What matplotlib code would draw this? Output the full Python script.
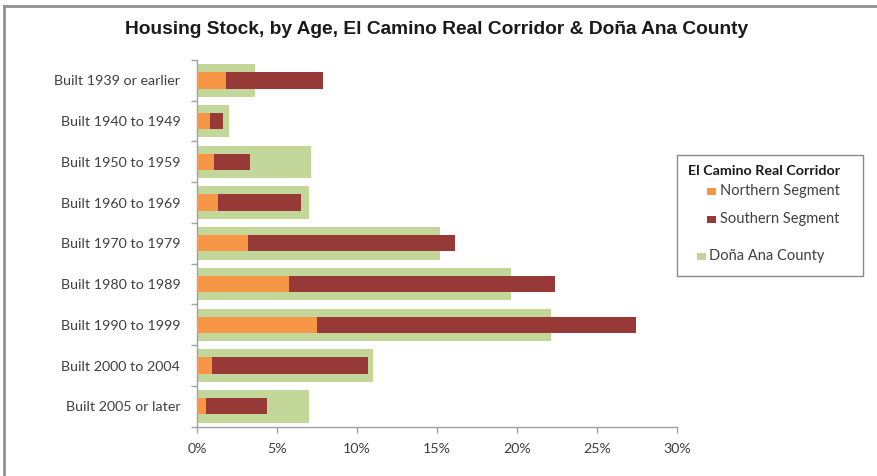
import matplotlib
matplotlib.use("Agg")
import matplotlib.pyplot as plt
from matplotlib.patches import Rectangle
from matplotlib.lines import Line2D
from matplotlib.ticker import FuncFormatter, FixedLocator
import numpy as np

categories = ["Built 1939 or earlier", "Built 1940 to 1949", "Built 1950 to 1959",
              "Built 1960 to 1969", "Built 1970 to 1979", "Built 1980 to 1989",
              "Built 1990 to 1999", "Built 2000 to 2004", "Built 2005 or later"]
dona_ana = [3.6, 2.0, 7.1, 7.0, 15.2, 19.6, 22.1, 11.0, 7.0]
southern = [7.9, 1.6, 3.3, 6.5, 16.1, 22.35, 27.45, 10.7, 4.4]
northern = [1.8, 0.8, 1.05, 1.3, 3.2, 5.75, 7.5, 0.95, 0.55]
xticks = [0, 5, 10, 15, 20, 25, 30]

GREEN = "#C4D79B"
RED = "#973A37"
ORANGE = "#F79646"
TXT = "#404040"
FONT = ["Lato", "DejaVu Sans"]

W, H = 877, 476
fig = plt.figure(figsize=(W / 100, H / 100), dpi=100)
fig.patch.set_facecolor("white")

ax = fig.add_axes([197 / W, 1 - 426.7 / H, 480 / W, 366.7 / H])
y = np.arange(len(categories))
ax.barh(y, dona_ana, height=0.8, color=GREEN, zorder=1)
ax.barh(y, southern, height=0.4, color=RED, zorder=2)
ax.barh(y, northern, height=0.4, color=ORANGE, zorder=3)

ax.set_xlim(0, 30)
ax.set_ylim(len(categories) - 0.5, -0.5)
ax.xaxis.set_major_locator(FixedLocator(xticks))
ax.xaxis.set_major_formatter(FuncFormatter(lambda v, p: f"{v:.0f}%"))
ax.set_yticks(y)
ax.set_yticklabels(categories)
ax.yaxis.set_minor_locator(FixedLocator(np.arange(-0.5, len(categories), 1.0)))
ax.tick_params(axis="y", which="major", length=0, pad=12, labelsize=10.3, labelcolor=TXT)
ax.tick_params(axis="y", which="minor", length=4, color="#A0A0A0", width=1)
ax.tick_params(axis="x", which="major", length=4, color="#A0A0A0", width=1,
               labelsize=10.3, labelcolor=TXT, pad=8)
for lab in ax.get_xticklabels() + ax.get_yticklabels():
    lab.set_fontfamily(FONT)
for s in ["top", "right"]:
    ax.spines[s].set_visible(False)
for s in ["left", "bottom"]:
    ax.spines[s].set_color("#A0A0A0")
    ax.spines[s].set_linewidth(1)

# title
fig.text(437 / W, 1 - 30 / H, "Housing Stock, by Age, El Camino Real Corridor & Doña Ana County",
         ha="center", va="center", fontsize=13.8, fontweight="bold",
         family=["Liberation Sans Narrow", "Liberation Sans", "DejaVu Sans"], color="#1a1a1a")

# outer frame lines (top and left)
fig.add_artist(Line2D([4 / W, 1], [1 - 6 / H, 1 - 6 / H], transform=fig.transFigure,
                      color="#909090", lw=2))
fig.add_artist(Line2D([4 / W, 4 / W], [0, 1 - 6 / H], transform=fig.transFigure,
                      color="#909090", lw=2))

# legend box
lx0, ly0, lx1, ly1 = 677, 155, 863, 276
fig.add_artist(Rectangle((lx0 / W, 1 - ly1 / H), (lx1 - lx0) / W, (ly1 - ly0) / H,
                         transform=fig.transFigure, facecolor="white",
                         edgecolor="#8a8a8a", lw=1))
fig.text(688 / W, 1 - 171 / H, "El Camino Real Corridor", ha="left", va="center",
         fontsize=10.3, fontweight="bold", family=FONT, color="#1a1a1a")
entries = [("Northern Segment", ORANGE, 707, 720, 191),
           ("Southern Segment", RED, 707, 720, 219),
           ("Doña Ana County", GREEN, 697, 709, 256)]
for label, col, sx, tx, yy in entries:
    fig.add_artist(Rectangle((sx / W, 1 - (yy + 3.5) / H), 9 / W, 7 / H,
                             transform=fig.transFigure, facecolor=col, edgecolor="none"))
    fig.text(tx / W, 1 - yy / H, label, ha="left", va="center",
             fontsize=10.5, family=FONT, color=TXT)

fig.savefig("out.png", dpi=100)
